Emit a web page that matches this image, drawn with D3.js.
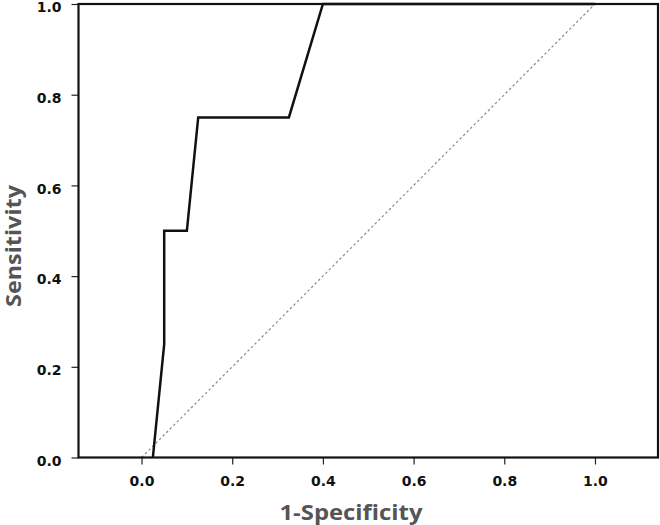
<!DOCTYPE html>
<html><head><meta charset="utf-8">
<script src="https://cdn.jsdelivr.net/npm/d3@7"></script>
<style>body{margin:0;background:#fff;}svg{display:block;}</style>
</head><body>
<script>
const fpr = [0.025, 0.05, 0.05, 0.1, 0.125, 0.325, 0.4, 1.0];
const tpr = [0.0, 0.25, 0.5, 0.5, 0.75, 0.75, 1.0, 1.0];
const refLine = [[0, 0], [1, 1]];
const xTicks = [0, 0.2, 0.4, 0.6, 0.8, 1.0];
const yTicks = [0, 0.2, 0.4, 0.6, 0.8, 1.0];

const W = 660, H = 525;
const m = {left: 78.5, right: 2, top: 4, bottom: 67.5};
const svg = d3.select("body").append("svg").attr("width", W).attr("height", H);
const x = d3.scaleLinear().domain([-0.139, 1.139]).range([m.left, W - m.right]);
const y = d3.scaleLinear().domain([0, 1]).range([H - m.bottom, m.top]);

const tickFont = "DejaVu Sans, Verdana, sans-serif";
const gx = svg.append("g").attr("transform", `translate(0,${H - m.bottom})`)
  .call(d3.axisBottom(x).tickValues(xTicks).tickFormat(d3.format(".1f")).tickSize(7).tickPadding(12));
const gy = svg.append("g").attr("transform", `translate(${m.left},0)`)
  .call(d3.axisLeft(y).tickValues(yTicks).tickFormat(d3.format(".1f")).tickSize(7).tickPadding(10));
[gx, gy].forEach(g => {
  g.select(".domain").remove();
  g.selectAll("line").attr("stroke", "#222").attr("stroke-width", 1.2);
  g.selectAll("text").attr("font-family", tickFont).attr("font-weight", "bold")
    .attr("font-size", 14).attr("fill", "#111");
});
gy.selectAll("text").attr("dy", "0.55em");

// reference diagonal
svg.append("path").datum(refLine)
  .attr("d", d3.line().x(d => x(d[0])).y(d => y(d[1])))
  .attr("fill", "none").attr("stroke", "#8a8a8a").attr("stroke-width", 1.2)
  .attr("stroke-dasharray", "2.5,2.5");

// ROC curve
const pts = fpr.map((v, i) => [v, tpr[i]]);
svg.append("path").datum(pts)
  .attr("d", d3.line().x(d => x(d[0])).y(d => y(d[1])))
  .attr("fill", "none").attr("stroke", "#111").attr("stroke-width", 2.5)
  .attr("stroke-linejoin", "miter");

// frame
svg.append("rect").attr("x", m.left).attr("y", m.top)
  .attr("width", W - m.right - m.left).attr("height", H - m.bottom - m.top)
  .attr("fill", "none").attr("stroke", "#111").attr("stroke-width", 2.2);

const titleFont = "Open Sans, Noto Sans, sans-serif";
svg.append("text").attr("x", 351).attr("y", 520)
  .attr("text-anchor", "middle").attr("font-family", titleFont).attr("font-weight", "bold")
  .attr("font-size", 21).attr("fill", "#555")
  .attr("textLength", 143).attr("lengthAdjust", "spacingAndGlyphs").text("1-Specificity");
svg.append("text").attr("transform", `translate(21,${246}) rotate(-90)`)
  .attr("text-anchor", "middle").attr("font-family", titleFont).attr("font-weight", "bold")
  .attr("font-size", 21).attr("fill", "#555")
  .attr("textLength", 122).attr("lengthAdjust", "spacingAndGlyphs").text("Sensitivity");
</script>
</body></html>
